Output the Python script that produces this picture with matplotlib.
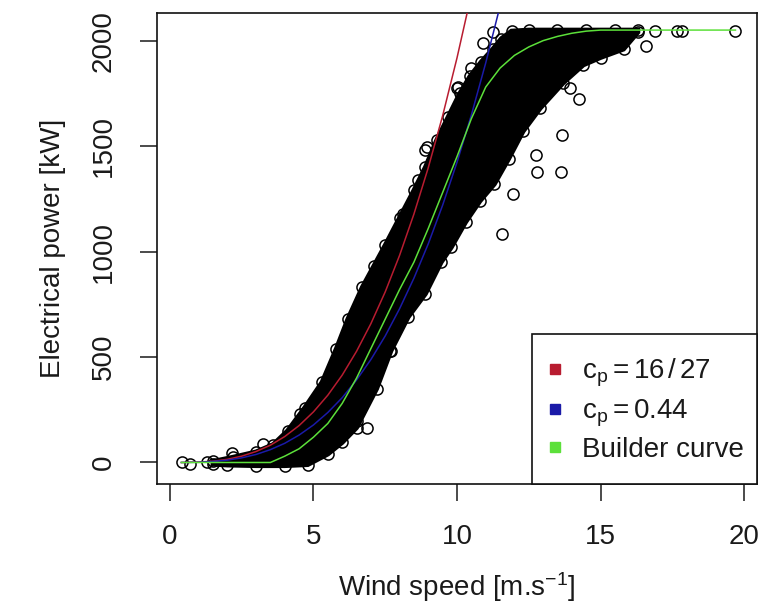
import matplotlib
matplotlib.use('Agg')
import matplotlib.pyplot as plt
from matplotlib.lines import Line2D
from matplotlib.patches import Rectangle

plt.rcParams['font.family'] = ['Liberation Sans', 'DejaVu Sans']
plt.rcParams['mathtext.fontset'] = 'custom'
plt.rcParams['mathtext.rm'] = 'Liberation Sans'
plt.rcParams['mathtext.it'] = 'Liberation Sans:italic'
plt.rcParams['mathtext.bf'] = 'Liberation Sans:bold'

# ---- data ----
# dense measurement cloud: upper/left boundary (going up) and lower/right boundary (going down)
cloud_upper_ws = [1.5, 2.2, 3.0, 3.6, 4.1, 4.7, 5.3, 5.8, 6.2, 6.7, 7.1, 7.5, 8.0, 8.5,
                  8.9, 9.3, 9.7, 10.1, 10.45, 10.85, 11.25, 11.55, 11.9, 12.5, 13.5, 14.5, 15.5, 16.3]
cloud_upper_kw = [5, 25, 50, 85, 150, 260, 380, 540, 680, 830, 930, 1030, 1160, 1290,
                  1400, 1530, 1640, 1750, 1830, 1900, 1960, 2010, 2045, 2050, 2050, 2050, 2050, 2050]
cloud_lower_ws = [16.3, 15.8, 15.0, 14.4, 13.7, 12.9, 12.3, 11.8, 11.3, 10.8, 10.3, 9.8,
                  9.45, 8.9, 8.3, 7.7, 7.2, 6.5, 6.0, 5.5, 4.8, 4.0, 3.0, 2.0, 1.5]
cloud_lower_kw = [2040, 1960, 1920, 1885, 1800, 1680, 1570, 1440, 1320, 1240, 1140, 1020,
                  950, 800, 690, 530, 350, 165, 95, 40, -10, -15, -15, -12, -8]

# isolated measurements
outlier_ws = [0.42, 0.7, 1.3, 2.16, 3.24, 4.53, 6.5, 6.86, 7.67, 8.12, 8.64, 8.89, 8.95,
              9.76, 10.0, 10.05, 10.5, 10.56, 10.9, 11.25, 11.57, 11.95, 12.75, 12.79,
              13.65, 13.62, 13.94, 14.25, 16.6, 16.9, 17.65, 17.85, 19.7]
outlier_kw = [0, -5, 0, 45, 88, 230, 197, 164, 530, 1180, 1337, 1480, 1495,
              1589, 1774, 1780, 1869, 1800, 1988, 2040, 1085, 1271, 1456, 1375,
              1551, 1375, 1774, 1722, 1974, 2045, 2045, 2045, 2045]

# theoretical curves
betz_ws = [0.4, 1, 1.5, 2, 2.5, 3, 3.5, 4, 4.5, 5, 5.5, 6, 6.5, 7, 7.5, 8, 8.5, 9, 9.5, 10, 10.5]
betz_kw = [0, 2, 6, 15, 30, 52, 82, 123, 175, 240, 319, 414, 527, 658, 809, 982, 1178,
           1398, 1644, 1918, 2220]
cp044_ws = [0.4, 1, 1.5, 2, 2.5, 3, 3.5, 4, 4.5, 5, 5.5, 6, 6.5, 7, 7.5, 8, 8.5, 9, 9.5,
            10, 10.5, 11, 11.5]
cp044_kw = [0, 1, 5, 11, 22, 38, 61, 91, 130, 178, 237, 307, 391, 488, 600, 729, 874,
            1037, 1220, 1423, 1647, 1894, 2164]
builder_ws = [0.4, 3.5, 4.0, 4.5, 5.0, 5.5, 6.0, 6.5, 7.0, 7.5, 8.0, 8.5, 9.0, 9.5, 10.0,
              10.5, 11.0, 11.5, 12.0, 12.5, 13.0, 13.5, 14.0, 14.5, 15.0, 19.7]
builder_kw = [0, 0, 30, 65, 120, 185, 280, 400, 540, 680, 820, 950, 1110, 1280, 1450,
              1630, 1780, 1870, 1930, 1970, 2000, 2020, 2035, 2045, 2050, 2050]

legend_labels = [r'$\mathrm{c_p = 16\,/\,27}$', r'$\mathrm{c_p = 0.44}$', 'Builder curve']
x_ticks = [0, 5, 10, 15, 20]
y_ticks = [0, 500, 1000, 1500, 2000]

red = '#b81c30'
blue = '#1a1aa8'
green = '#5ce03a'
txt = '#1a1a1a'

fig = plt.figure(figsize=(7.71, 6.16), dpi=100)
ax = fig.add_axes([157 / 771, 1 - 484 / 616, 600 / 771, 471 / 616])

# cloud
poly_x = cloud_upper_ws + cloud_lower_ws
poly_y = cloud_upper_kw + cloud_lower_kw
ax.fill(poly_x, poly_y, facecolor='black', edgecolor='black', lw=3.5, zorder=1)
ax.plot(poly_x, poly_y, linestyle='none', marker='o', markersize=8, markerfacecolor='none',
        markeredgecolor='black', markeredgewidth=1.1, zorder=1)
ax.plot(outlier_ws, outlier_kw, linestyle='none', marker='o', markersize=8,
        markerfacecolor='none', markeredgecolor='black', markeredgewidth=1.1, zorder=2)

ax.plot(betz_ws, betz_kw, color=red, lw=1.1, zorder=3)
ax.plot(cp044_ws, cp044_kw, color=blue, lw=1.1, zorder=3)
ax.plot(builder_ws, builder_kw, color=green, lw=1.1, zorder=4)

ax.set_xlim(-0.45, 20.45)
ax.set_ylim(-102, 2131)
ax.set_xticks(x_ticks)
ax.set_yticks(y_ticks)
ax.set_xticklabels([str(v) for v in x_ticks])
ax.set_yticklabels([str(v) for v in y_ticks], rotation=90, va='center')
ax.tick_params(axis='both', length=12, width=1.1, pad=17, labelsize=20, colors=txt,
               labelcolor=txt)
for s in ax.spines.values():
    s.set_linewidth(1.2)
    s.set_color('#111111')

ax.set_xlabel(r'Wind speed [m.s$^{-1}$]', fontsize=20, color=txt, labelpad=14)
ax.set_ylabel('Electrical power [kW]', fontsize=20, color=txt, labelpad=18)

# legend box (R-style, anchored to bottom-right corner of the plot region)
bx0 = (532 - 157) / 600
by1 = (484 - 334) / 471
ax.add_patch(Rectangle((bx0, 0), 1 - bx0, by1, transform=ax.transAxes, facecolor='white',
                       edgecolor='#111111', lw=1.2, zorder=10, clip_on=False))
handles = [Line2D([], [], linestyle='none', marker='s', markersize=7, color=c)
           for c in (red, blue, green)]
leg = ax.legend(handles, legend_labels, loc='center left',
                bbox_to_anchor=(bx0 + 12 / 600, by1 / 2 - 1 / 471), borderaxespad=0,
                fontsize=20, frameon=False, handlelength=0.8, borderpad=0,
                handletextpad=0.55, labelspacing=0.3)
leg.set_zorder(11)
for t in leg.get_texts():
    t.set_color(txt)

fig.savefig('out.png', dpi=100)
